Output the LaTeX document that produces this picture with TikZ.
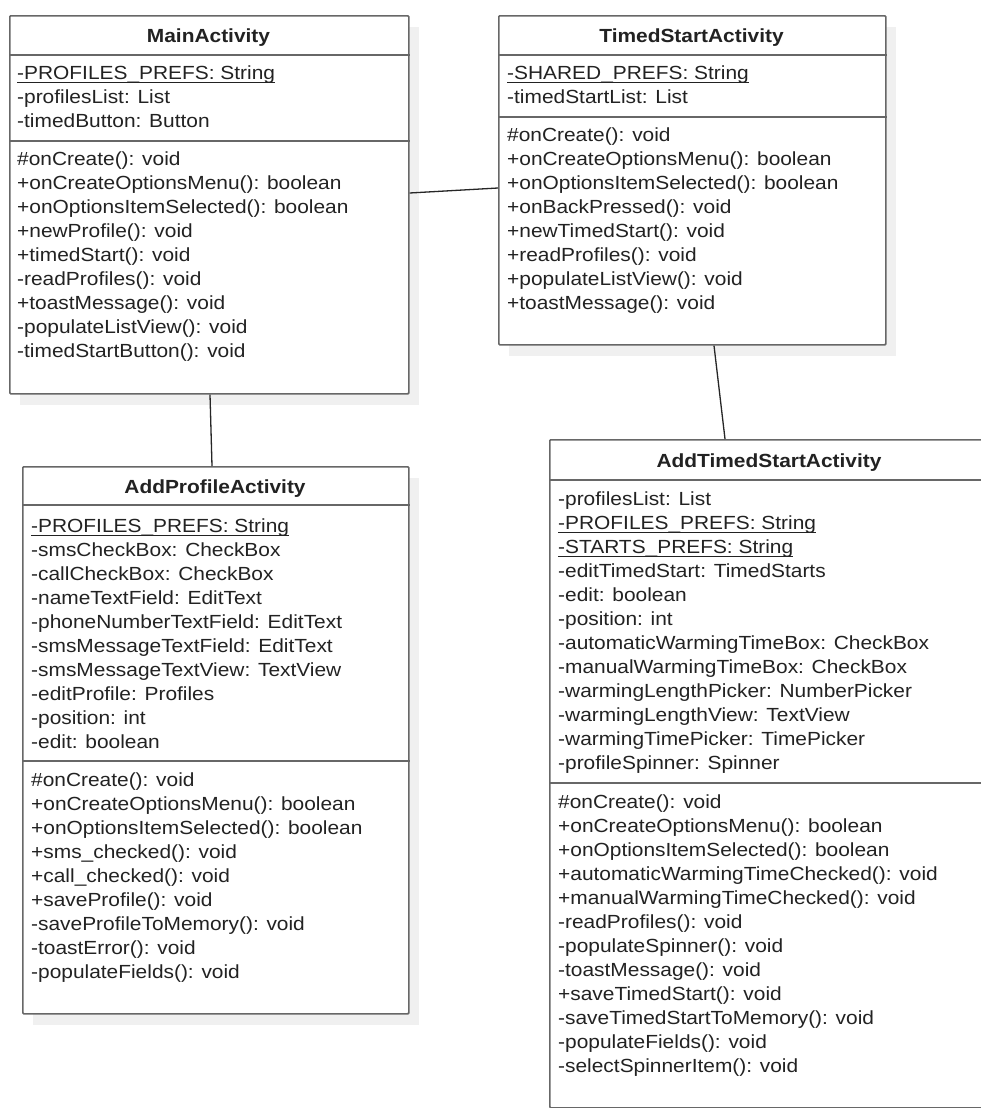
\documentclass[tikz,border=0pt]{standalone}
\usepackage{fontspec}
\setmainfont{Liberation Sans}[FakeStretch=1.1]
\definecolor{border}{HTML}{676767}
\definecolor{shadowc}{HTML}{F0F0F0}
\definecolor{txt}{HTML}{222222}
\newcommand\myul[1]{\setbox0\hbox{#1}\rlap{\rule[-4bp]{\wd0}{1bp}}\box0}
\tikzset{
 classbox/.style={draw=border, line width=1.6bp, fill=white, inner sep=0pt, anchor=north west, rounded corners=1bp},
 shadowbox/.style={fill=shadowc, draw=none, inner sep=0pt, anchor=north west},
 member/.style={anchor=base west, inner sep=0pt, text=txt, font=\fontsize{19bp}{24bp}\selectfont},
 classtitle/.style={anchor=base, inner sep=0pt, text=txt, font=\bfseries\fontsize{19bp}{24bp}\selectfont},
 divider/.style={draw=border, line width=1.6bp},
 link/.style={draw=black!85, line width=1.3bp}
}
\begin{document}
\begin{tikzpicture}[x=1bp,y=-1bp]
\clip (0,0) rectangle (981,1108);
\fill[white] (0,0) rectangle (981,1108);
% shadows
\node[shadowbox, minimum width=399bp, minimum height=378bp] (mainsh) at (20,27) {};
\node[shadowbox, minimum width=387bp, minimum height=329bp] (timedsh) at (509,27) {};
\node[shadowbox, minimum width=386bp, minimum height=547bp] (addpsh) at (33,478) {};
% boxes
\node[classbox, minimum width=399bp, minimum height=378bp] (main) at (9,15) {};
\node[classbox, minimum width=387bp, minimum height=329bp] (timed) at (498,15) {};
\node[classbox, minimum width=386bp, minimum height=547bp] (addp) at (22,466) {};
\node[classbox, minimum width=440bp, minimum height=668bp] (addt) at (549,439) {};
% dividers
\draw[divider] ([yshift=-40bp]main.north west) -- ([yshift=-40bp]main.north east);
\draw[divider] ([yshift=-126bp]main.north west) -- ([yshift=-126bp]main.north east);
\draw[divider] ([yshift=-40bp]timed.north west) -- ([yshift=-40bp]timed.north east);
\draw[divider] ([yshift=-102bp]timed.north west) -- ([yshift=-102bp]timed.north east);
\draw[divider] ([yshift=-39bp]addp.north west) -- ([yshift=-39bp]addp.north east);
\draw[divider] ([yshift=-295bp]addp.north west) -- ([yshift=-295bp]addp.north east);
\draw[divider] ([yshift=-41bp]addt.north west) -- ([yshift=-41bp]addt.north east);
\draw[divider] ([yshift=-344bp]addt.north west) -- ([yshift=-344bp]addt.north east);
% connectors
\draw[link] ([yshift=-178bp]main.north east) -- ([yshift=-173bp]timed.north west);
\draw[link] ([xshift=201bp]main.south west) -- ([xshift=190bp]addp.north west);
\draw[link] ([xshift=216bp]timed.south west) -- ([xshift=176bp]addt.north west);
% titles
\node[classtitle] (maint) at (208.5,42) {MainActivity};
\node[classtitle] (timedt) at (691.5,42) {TimedStartActivity};
\node[classtitle] (addpt) at (215,493) {AddProfileActivity};
\node[classtitle] (addtt) at (769,467) {AddTimedStartActivity};
% MainActivity members
\foreach \t [count=\i] in {{\myul{-PROFILES\_PREFS: String}},-profilesList: List,-timedButton: Button}
  \node[member] (mainA\i) at (17,{79+24*(\i-1)}) {\t};
\foreach \t [count=\i] in {\#onCreate(): void,+onCreateOptionsMenu(): boolean,+onOptionsItemSelected(): boolean,+newProfile(): void,+timedStart(): void,-readProfiles(): void,+toastMessage(): void,-populateListView(): void,-timedStartButton(): void}
  \node[member] (mainM\i) at (17,{165+24*(\i-1)}) {\t};
% TimedStartActivity members
\foreach \t [count=\i] in {{\myul{-SHARED\_PREFS: String}},-timedStartList: List}
  \node[member] (timedA\i) at (507,{79+24*(\i-1)}) {\t};
\foreach \t [count=\i] in {\#onCreate(): void,+onCreateOptionsMenu(): boolean,+onOptionsItemSelected(): boolean,+onBackPressed(): void,+newTimedStart(): void,+readProfiles(): void,+populateListView(): void,+toastMessage(): void}
  \node[member] (timedM\i) at (507,{141+24*(\i-1)}) {\t};
% AddProfileActivity members
\foreach \t [count=\i] in {{\myul{-PROFILES\_PREFS: String}},-smsCheckBox: CheckBox,-callCheckBox: CheckBox,-nameTextField: EditText,-phoneNumberTextField: EditText,-smsMessageTextField: EditText,-smsMessageTextView: TextView,-editProfile: Profiles,-position: int,-edit: boolean}
  \node[member] (addpA\i) at (31,{532+24*(\i-1)}) {\t};
\foreach \t [count=\i] in {\#onCreate(): void,+onCreateOptionsMenu(): boolean,+onOptionsItemSelected(): boolean,+sms\_checked(): void,+call\_checked(): void,+saveProfile(): void,-saveProfileToMemory(): void,-toastError(): void,-populateFields(): void}
  \node[member] (addpM\i) at (31,{786+24*(\i-1)}) {\t};
% AddTimedStartActivity members
\foreach \t [count=\i] in {-profilesList: List,{\myul{-PROFILES\_PREFS: String}},{\myul{-STARTS\_PREFS: String}},-editTimedStart: TimedStarts,-edit: boolean,-position: int,-automaticWarmingTimeBox: CheckBox,-manualWarmingTimeBox: CheckBox,-warmingLengthPicker: NumberPicker,-warmingLengthView: TextView,-warmingTimePicker: TimePicker,-profileSpinner: Spinner}
  \node[member] (addtA\i) at (558,{505+24*(\i-1)}) {\t};
\foreach \t [count=\i] in {\#onCreate(): void,+onCreateOptionsMenu(): boolean,+onOptionsItemSelected(): boolean,+automaticWarmingTimeChecked(): void,+manualWarmingTimeChecked(): void,-readProfiles(): void,-populateSpinner(): void,-toastMessage(): void,+saveTimedStart(): void,-saveTimedStartToMemory(): void,-populateFields(): void,-selectSpinnerItem(): void}
  \node[member] (addtM\i) at (558,{808+24*(\i-1)}) {\t};
\end{tikzpicture}
\end{document}
